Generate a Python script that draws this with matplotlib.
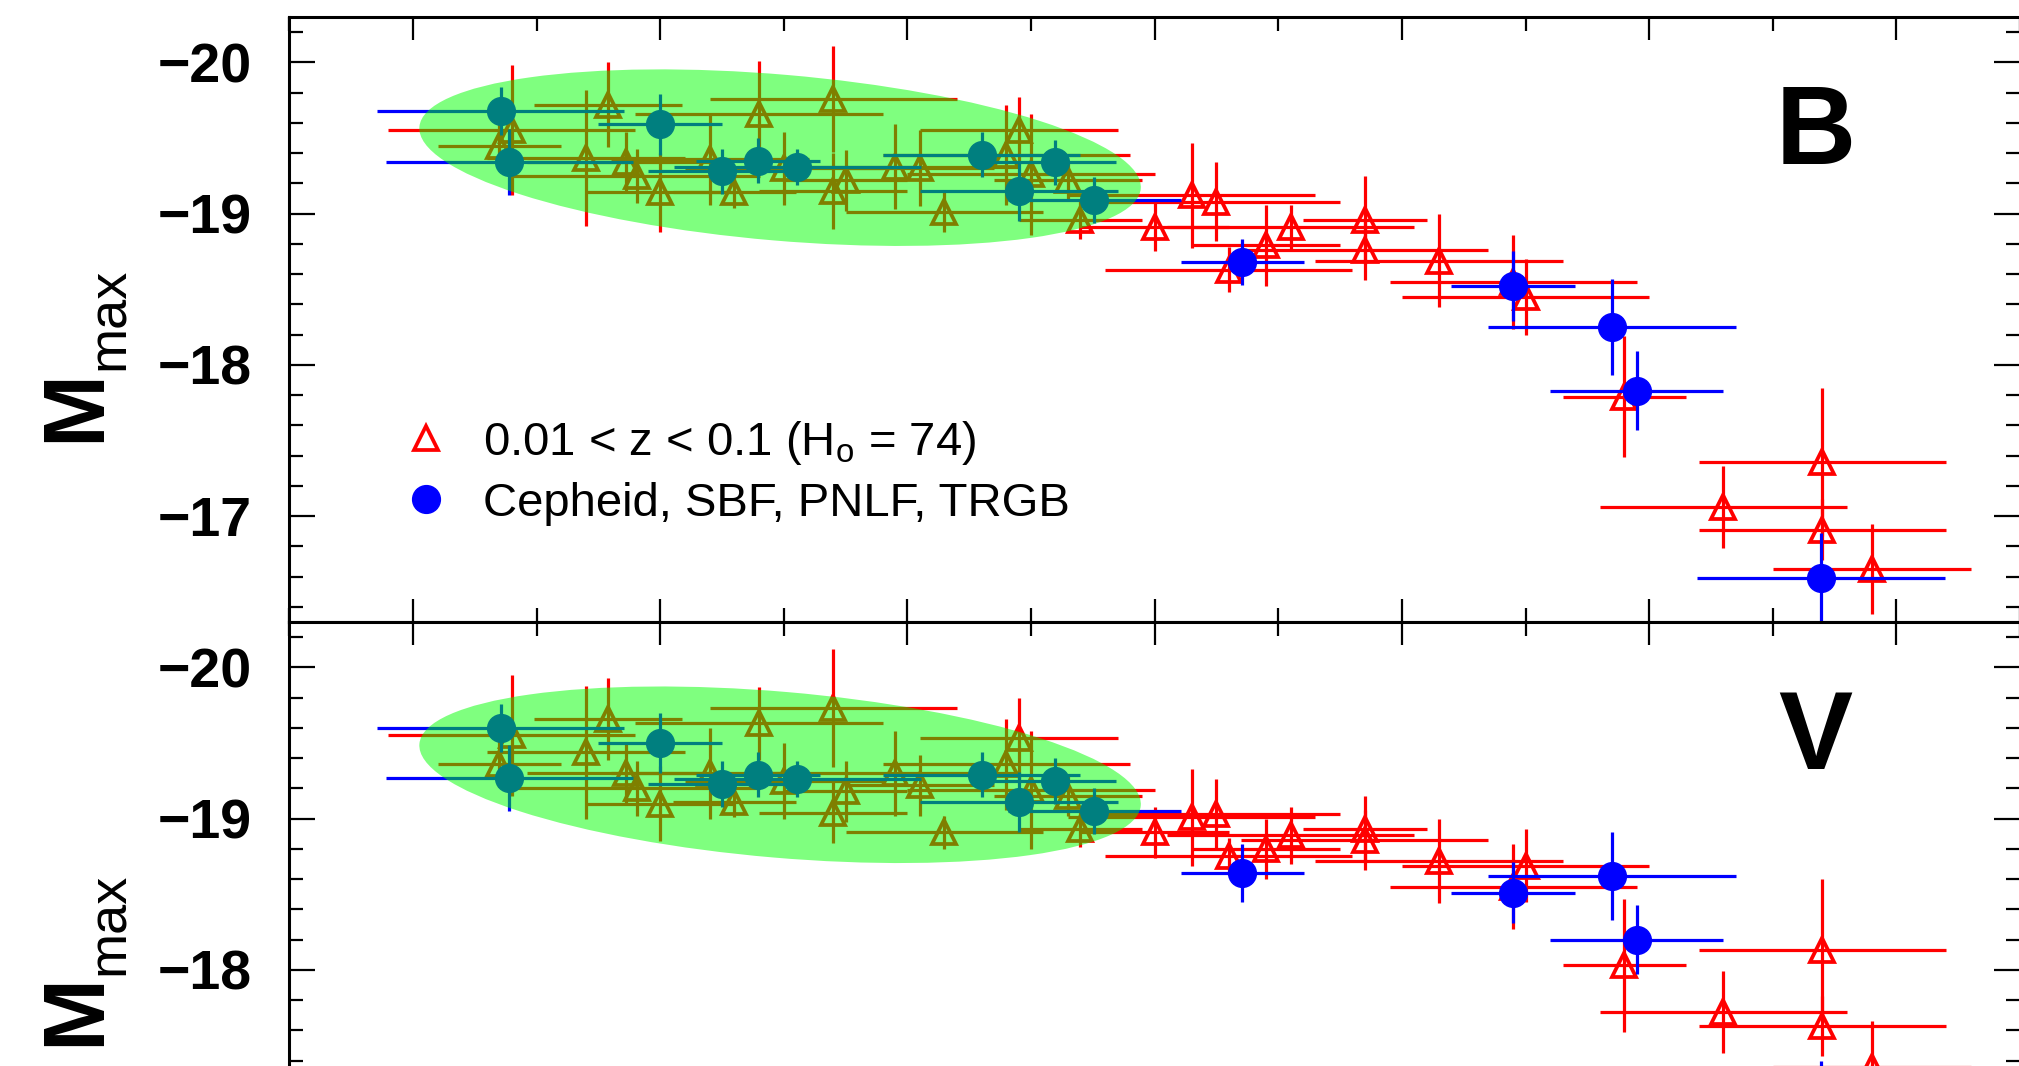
import matplotlib
matplotlib.use("Agg")
import matplotlib.pyplot as plt
from matplotlib.patches import Ellipse
from matplotlib.lines import Line2D
from matplotlib.ticker import MultipleLocator
import matplotlib.transforms as mtransforms

plt.rcParams['font.family'] = ['Liberation Sans', 'DejaVu Sans']
plt.rcParams['mathtext.fontset'] = 'custom'
plt.rcParams['mathtext.rm'] = 'Liberation Sans'
plt.rcParams['mathtext.it'] = 'Liberation Sans:italic'
plt.rcParams['mathtext.bf'] = 'Liberation Sans:bold'

# Hubble-flow SNe Ia (0.01 < z < 0.1, H0 = 74)
dm15_hf = [0.88, 0.87, 0.94, 0.958, 0.972, 0.981, 1.00, 1.04, 1.06, 1.08,
           1.10, 1.14, 1.14, 1.15, 1.19, 1.21, 1.23, 1.28, 1.29, 1.30,
           1.33, 1.34, 1.40, 1.43, 1.45, 1.46, 1.49, 1.51, 1.57, 1.57,
           1.63, 1.69, 1.70, 1.78, 1.86, 1.94, 1.94, 1.98]
dm15_hf_err = [0.10, 0.05, 0.08, 0.06, 0.08, 0.10, 0.06, 0.08, 0.05, 0.10,
               0.08, 0.10, 0.06, 0.05, 0.10, 0.06, 0.08, 0.10, 0.08, 0.10,
               0.06, 0.05, 0.06, 0.10, 0.10, 0.10, 0.06, 0.10, 0.05, 0.10,
               0.10, 0.10, 0.10, 0.05, 0.10, 0.10, 0.10, 0.08]
MB_hf = [-19.55, -19.45, -19.37, -19.72, -19.34, -19.25, -19.14, -19.36, -19.14, -19.66,
         -19.30, -19.76, -19.15, -19.22, -19.31, -19.30, -19.01, -19.39, -19.55, -19.26,
         -19.22, -18.96, -18.91, -19.12, -19.08, -18.63, -18.79, -18.91, -18.96, -18.76,
         -18.69, -18.55, -18.45, -17.79, -17.06, -17.36, -16.91, -16.65]
MB_hf_err = [0.43, 0.15, 0.45, 0.28, 0.20, 0.18, 0.26, 0.30, 0.10, 0.35,
             0.24, 0.35, 0.25, 0.20, 0.28, 0.25, 0.13, 0.33, 0.22, 0.40,
             0.13, 0.13, 0.16, 0.35, 0.26, 0.15, 0.27, 0.15, 0.29, 0.20,
             0.31, 0.31, 0.25, 0.40, 0.27, 0.49, 0.20, 0.30]
MV_hf = [-19.55, -19.36, -19.44, -19.66, -19.30, -19.20, -19.10, -19.30, -19.11, -19.63,
         -19.25, -19.73, -19.04, -19.18, -19.30, -19.22, -18.91, -19.36, -19.53, -19.19,
         -19.15, -18.93, -18.91, -19.01, -19.03, -18.75, -18.80, -18.89, -18.93, -18.86,
         -18.72, -18.55, -18.69, -18.03, -17.72, -18.13, -17.63, -17.36]
MV_hf_err = [0.40, 0.15, 0.44, 0.27, 0.20, 0.18, 0.25, 0.30, 0.10, 0.24,
             0.25, 0.39, 0.20, 0.20, 0.28, 0.20, 0.11, 0.30, 0.27, 0.39,
             0.13, 0.12, 0.17, 0.32, 0.23, 0.12, 0.20, 0.19, 0.22, 0.20,
             0.28, 0.28, 0.24, 0.44, 0.27, 0.47, 0.20, 0.30]

# calibrators with Cepheid / SBF / PNLF / TRGB distances
dm15_cal = [0.871, 0.878, 1.00, 1.05, 1.079, 1.111, 1.26, 1.29, 1.319, 1.351,
            1.471, 1.69, 1.77, 1.79, 1.939]
dm15_cal_err = [0.10, 0.10, 0.05, 0.06, 0.05, 0.10, 0.08, 0.08, 0.05, 0.07,
                0.05, 0.05, 0.10, 0.07, 0.10]
MB_cal = [-19.68, -19.34, -19.59, -19.28, -19.35, -19.31, -19.39, -19.15, -19.34, -19.09,
          -18.68, -18.52, -18.25, -17.83, -16.59]
MB_cal_err = [0.16, 0.22, 0.20, 0.15, 0.15, 0.12, 0.15, 0.20, 0.15, 0.15,
              0.15, 0.23, 0.32, 0.26, 0.30]
MV_cal = [-19.60, -19.27, -19.50, -19.23, -19.29, -19.26, -19.29, -19.11, -19.25, -19.05,
          -18.64, -18.51, -18.62, -18.20, -17.05]
MV_cal_err = [0.16, 0.22, 0.20, 0.15, 0.15, 0.12, 0.15, 0.20, 0.15, 0.15,
              0.19, 0.20, 0.29, 0.23, 0.35]

# centre of the highlighted region of slow decliners in each band
blob_centre = {"B": (1.097, -19.37), "V": (1.097, -19.29)}

W, H = 2019, 1066
fig = plt.figure(figsize=(W / 100, H / 100), dpi=100)
px_per_mag = 151.25
x0, x1 = 289.3, 2020.0          # axes left/right edges in pixels
top_b, top_v = 17.0, 622.0      # axes top edges in pixels (from image top)
ylim_b = (-16.3, -20.3)
ylim_v = (-17.05, -20.3)        # lower panel continues past the bottom edge


def add_panel(top_px, ylim):
    h_px = (ylim[0] - ylim[1]) * px_per_mag
    return fig.add_axes([x0 / W, (H - top_px - h_px) / H,
                         (x1 - x0) / W, h_px / H])


ax_b = add_panel(top_b, ylim_b)
ax_v = add_panel(top_v, ylim_v)


def draw_panel(ax, band, ylim, M_hf, M_hf_err, M_cal, M_cal_err):
    ax.errorbar(dm15_hf, M_hf, xerr=dm15_hf_err, yerr=M_hf_err, fmt='^',
                ms=17, mfc='none', mec='red', mew=2.7, ecolor='red',
                elinewidth=2.3, capsize=0, zorder=2)
    ax.errorbar(dm15_cal, M_cal, xerr=dm15_cal_err, yerr=M_cal_err, fmt='o',
                ms=20, color='blue', ecolor='blue', elinewidth=2.3,
                capsize=0, zorder=3)

    # translucent ellipse over the slow-decline cluster
    cx, cy = blob_centre[band]
    trans = fig.dpi_scale_trans + mtransforms.ScaledTranslation(cx, cy, ax.transData)
    ax.add_patch(Ellipse((0, 0), 7.24, 1.66, angle=-4.9, transform=trans,
                         facecolor=(0, 1, 0), alpha=0.5, edgecolor='none', zorder=4))

    ax.set_xlim(0.7, 2.1)
    ax.set_ylim(*ylim)
    ax.xaxis.set_major_locator(MultipleLocator(0.2))
    ax.xaxis.set_minor_locator(MultipleLocator(0.1))
    ax.yaxis.set_major_locator(MultipleLocator(1))
    ax.yaxis.set_minor_locator(MultipleLocator(0.2))
    ax.tick_params(which='both', direction='in', top=True, right=True,
                   width=1.6, labelbottom=False)
    ax.tick_params(axis='y', which='major', length=19, pad=27,
                   labelsize=40)
    ax.tick_params(axis='x', which='major', length=16.5)
    ax.tick_params(which='minor', length=10)
    for lab in ax.get_yticklabels():
        lab.set_fontweight('bold')
    for sp in ax.spines.values():
        sp.set_linewidth(2.2)

    # text placed by pixel offset below the panel top
    h_px = (ylim[0] - ylim[1]) * px_per_mag

    def fy(dy):
        return 1 - dy / h_px

    ax.text(0.8817, fy(118), band, transform=ax.transAxes, fontsize=80,
            fontweight='bold', ha='center', va='center')

    # y label, M with a "max" subscript
    ax.text(-0.110, fy(388), "M", transform=ax.transAxes, fontsize=63,
            fontweight='bold', rotation=90, rotation_mode='anchor',
            ha='center', va='baseline')
    ax.text(-0.0955, fy(302), "max", transform=ax.transAxes, fontsize=39,
            rotation=90, rotation_mode='anchor', ha='center', va='baseline')


draw_panel(ax_b, "B", ylim_b, MB_hf, MB_hf_err, MB_cal, MB_cal_err)
draw_panel(ax_v, "V", ylim_v, MV_hf, MV_hf_err, MV_cal, MV_cal_err)

handles = [Line2D([], [], ls='none', marker='^', ms=17, mfc='none', mec='red', mew=2.7),
           Line2D([], [], ls='none', marker='o', ms=20, color='blue')]
labels = [r"0.01 < z < 0.1 (H$_\mathrm{o}$ = 74)", "Cepheid, SBF, PNLF, TRGB"]
ax_b.legend(handles, labels, loc='upper left', bbox_to_anchor=(0.0653, 0.336),
            frameon=False, fontsize=34, handlelength=1.0, handletextpad=0.71,
            borderpad=0, borderaxespad=0, labelspacing=0.32)

fig.savefig("out.png", dpi=100)
